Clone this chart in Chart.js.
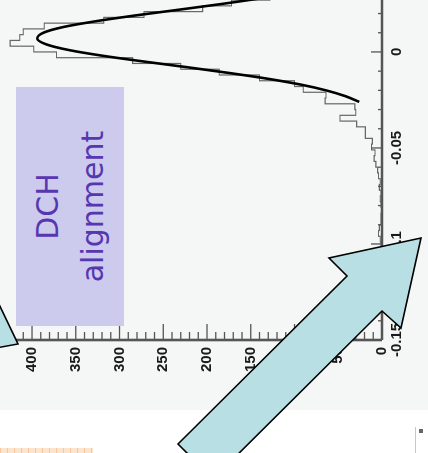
<!DOCTYPE html>
<html>
<head>
<meta charset="utf-8">
<script src="https://cdn.jsdelivr.net/npm/chart.js@4.4.1/dist/chart.umd.min.js"></script>
<style>
  html, body { margin: 0; padding: 0; background: #fff; overflow: hidden; }
  #page { position: relative; width: 428px; height: 453px; overflow: hidden; background: #fff; }
  #panel { position: absolute; left: 0; top: 0; width: 428px; height: 410px; background: #f5f6f6; }
  /* the plot is laid out lying on its side, then turned a quarter turn */
  #rot { position: absolute; left: 0; top: 453px; width: 470px; height: 428px;
         transform-origin: 0 0; transform: rotate(-90deg); }
  #rot canvas { position: absolute; left: 0; top: 0; }
  #tag { position: absolute; left: 127px; top: 16px; width: 239px; height: 108px;
         box-sizing: border-box; padding-top: 9px; background: #cccbed; color: #5637b0;
         font: 30px/45px "DejaVu Sans", sans-serif; text-align: center; }
  #arrows { position: absolute; left: 0; top: 0; }
  #strip { position: absolute; left: 0; top: 448px; width: 93px; height: 5px;
           background: repeating-linear-gradient(90deg, #f7c8a0 0 1px, #fde4cc 1px 7px); }
  #corner { position: absolute; left: 415px; top: 427px; width: 13px; height: 26px;
            border-left: 1px solid #c8c8c8; }
  #corner i { position: absolute; left: 3px; top: 2px; width: 4px; height: 4px; background: #666; }
</style>
</head>
<body>
<div id="page">
  <div id="panel"></div>
  <div id="rot">
    <canvas id="c" width="470" height="428"></canvas>
    <div id="tag">DCH<br>alignment</div>
  </div>
  <svg id="arrows" width="428" height="453">
    <polygon points="178,444 347,276 329,258 421,238 401,328 382,311 213,479"
             fill="#b8e0e4" stroke="#000" stroke-width="1.6" stroke-linejoin="miter"/>
    <polygon points="-4,298 18,344 -4,348" fill="#b8e0e4" stroke="#000" stroke-width="1.6"/>
  </svg>
  <div id="strip"></div>
  <div id="corner"><i></i></div>
</div>
<script>
// residual histogram: 0.003 wide bins starting at -0.153
const binStart = -0.153;
const binWidth = 0.003;
const binCounts = [
  0, 0, 0, 0, 0, 0, 1, 0, 0, 0,
  0, 1, 0, 0, 0, 1, 0, 1, 2, 4,
  3, 1, 1, 0, 1, 2, 1, 3, 2, 4,
  5, 7, 9, 8, 12, 11, 19, 19, 29, 48,
  30, 31, 65, 64, 90, 100, 140, 186, 230, 285,
  372, 398, 425, 414, 410, 386, 318, 272, 205, 172,
  128, 98
];

// gaussian fit curve, sampled along the residual axis
const fitResidual = [-0.026, -0.023, -0.020, -0.017, -0.014, -0.011, -0.008, -0.005, -0.002,
  0.001, 0.004, 0.007, 0.010, 0.013, 0.016, 0.019, 0.022, 0.025, 0.028, 0.031, 0.034];
const fitCounts = [26, 42, 64, 93, 130, 174, 222, 272, 319,
  358, 384, 394, 387, 364, 327, 282, 232, 183, 138, 100, 69];

const countTicks = [0, 50, 100, 150, 200, 250, 300, 350, 400];
const residualTicks = [-0.15, -0.1, -0.05, 0];
const residualLabels = ['-0.15', '-0.1', '-0.05', '0'];

const histPoints = binCounts.map((c, i) => ({ x: binStart + i * binWidth, y: c }));
histPoints.push({ x: binStart + binCounts.length * binWidth, y: binCounts[binCounts.length - 1] });
const fitPoints = fitResidual.map((r, i) => ({ x: r, y: fitCounts[i] }));

const tickFont = { family: '"Liberation Sans", Arial, sans-serif', size: 15, weight: 'bold' };

// keep the frame edge-to-edge: no extra room for the end labels
function noPad(s) {
  s.paddingLeft = 0; s.paddingRight = 0; s.paddingTop = 0; s.paddingBottom = 0;
}

// ROOT-style frame: thick axis lines, long major and short minor ticks
const rootAxes = {
  id: 'rootAxes',
  afterDatasetsDraw(chart) {
    const { ctx, scales: { x, y } } = chart;
    const seg = (x1, y1, x2, y2) => { ctx.beginPath(); ctx.moveTo(x1, y1); ctx.lineTo(x2, y2); ctx.stroke(); };
    ctx.save();
    ctx.strokeStyle = '#555';
    ctx.lineWidth = 1.3;
    for (let k = -15; k <= 3; k++) {
      const px = x.getPixelForValue(k / 100);
      seg(px, y.bottom, px, y.bottom - (k % 5 === 0 ? 11 : 4));
    }
    for (let c = 0; c <= 410; c += 10) {
      const py = y.getPixelForValue(c);
      seg(x.left, py, x.left + (c % 50 === 0 ? 16 : 8), py);
    }
    ctx.lineWidth = 2.6;
    seg(x.left, y.bottom, x.right, y.bottom);
    seg(x.left, y.getPixelForValue(419), x.left, y.bottom);
    ctx.restore();
  }
};

new Chart(document.getElementById('c').getContext('2d'), {
  type: 'line',
  data: {
    datasets: [
      {
        label: 'fit',
        data: fitPoints,
        borderColor: '#000',
        borderWidth: 2.6,
        cubicInterpolationMode: 'monotone',
        pointRadius: 0,
        fill: false
      },
      {
        label: 'residuals',
        data: histPoints,
        borderColor: '#666',
        borderWidth: 1.2,
        stepped: 'before',
        pointRadius: 0,
        fill: false
      }
    ]
  },
  options: {
    responsive: false,
    animation: false,
    layout: { padding: 0 },
    plugins: { legend: { display: false }, tooltip: { enabled: false } },
    scales: {
      x: {
        type: 'linear',
        position: 'bottom',
        min: -0.15,
        max: 0.0359,
        grid: { display: false, drawTicks: false },
        border: { display: false },
        afterBuildTicks: s => { s.ticks = residualTicks.map(v => ({ value: v })); },
        afterFit: s => { s.height = 46; noPad(s); },
        ticks: {
          autoSkip: false,
          maxRotation: 0,
          padding: 6,
          color: '#1a1a1a',
          font: tickFont,
          callback: (v, i) => residualLabels[i]
        }
      },
      y: {
        type: 'linear',
        min: 0,
        max: 436.6,
        grid: { display: false, drawTicks: false },
        border: { display: false },
        afterBuildTicks: s => { s.ticks = countTicks.map(v => ({ value: v })); },
        afterFit: s => { s.width = 113; noPad(s); },
        ticks: { autoSkip: false, padding: 7, color: '#1a1a1a', font: tickFont }
      }
    }
  },
  plugins: [rootAxes]
});
</script>
</body>
</html>
